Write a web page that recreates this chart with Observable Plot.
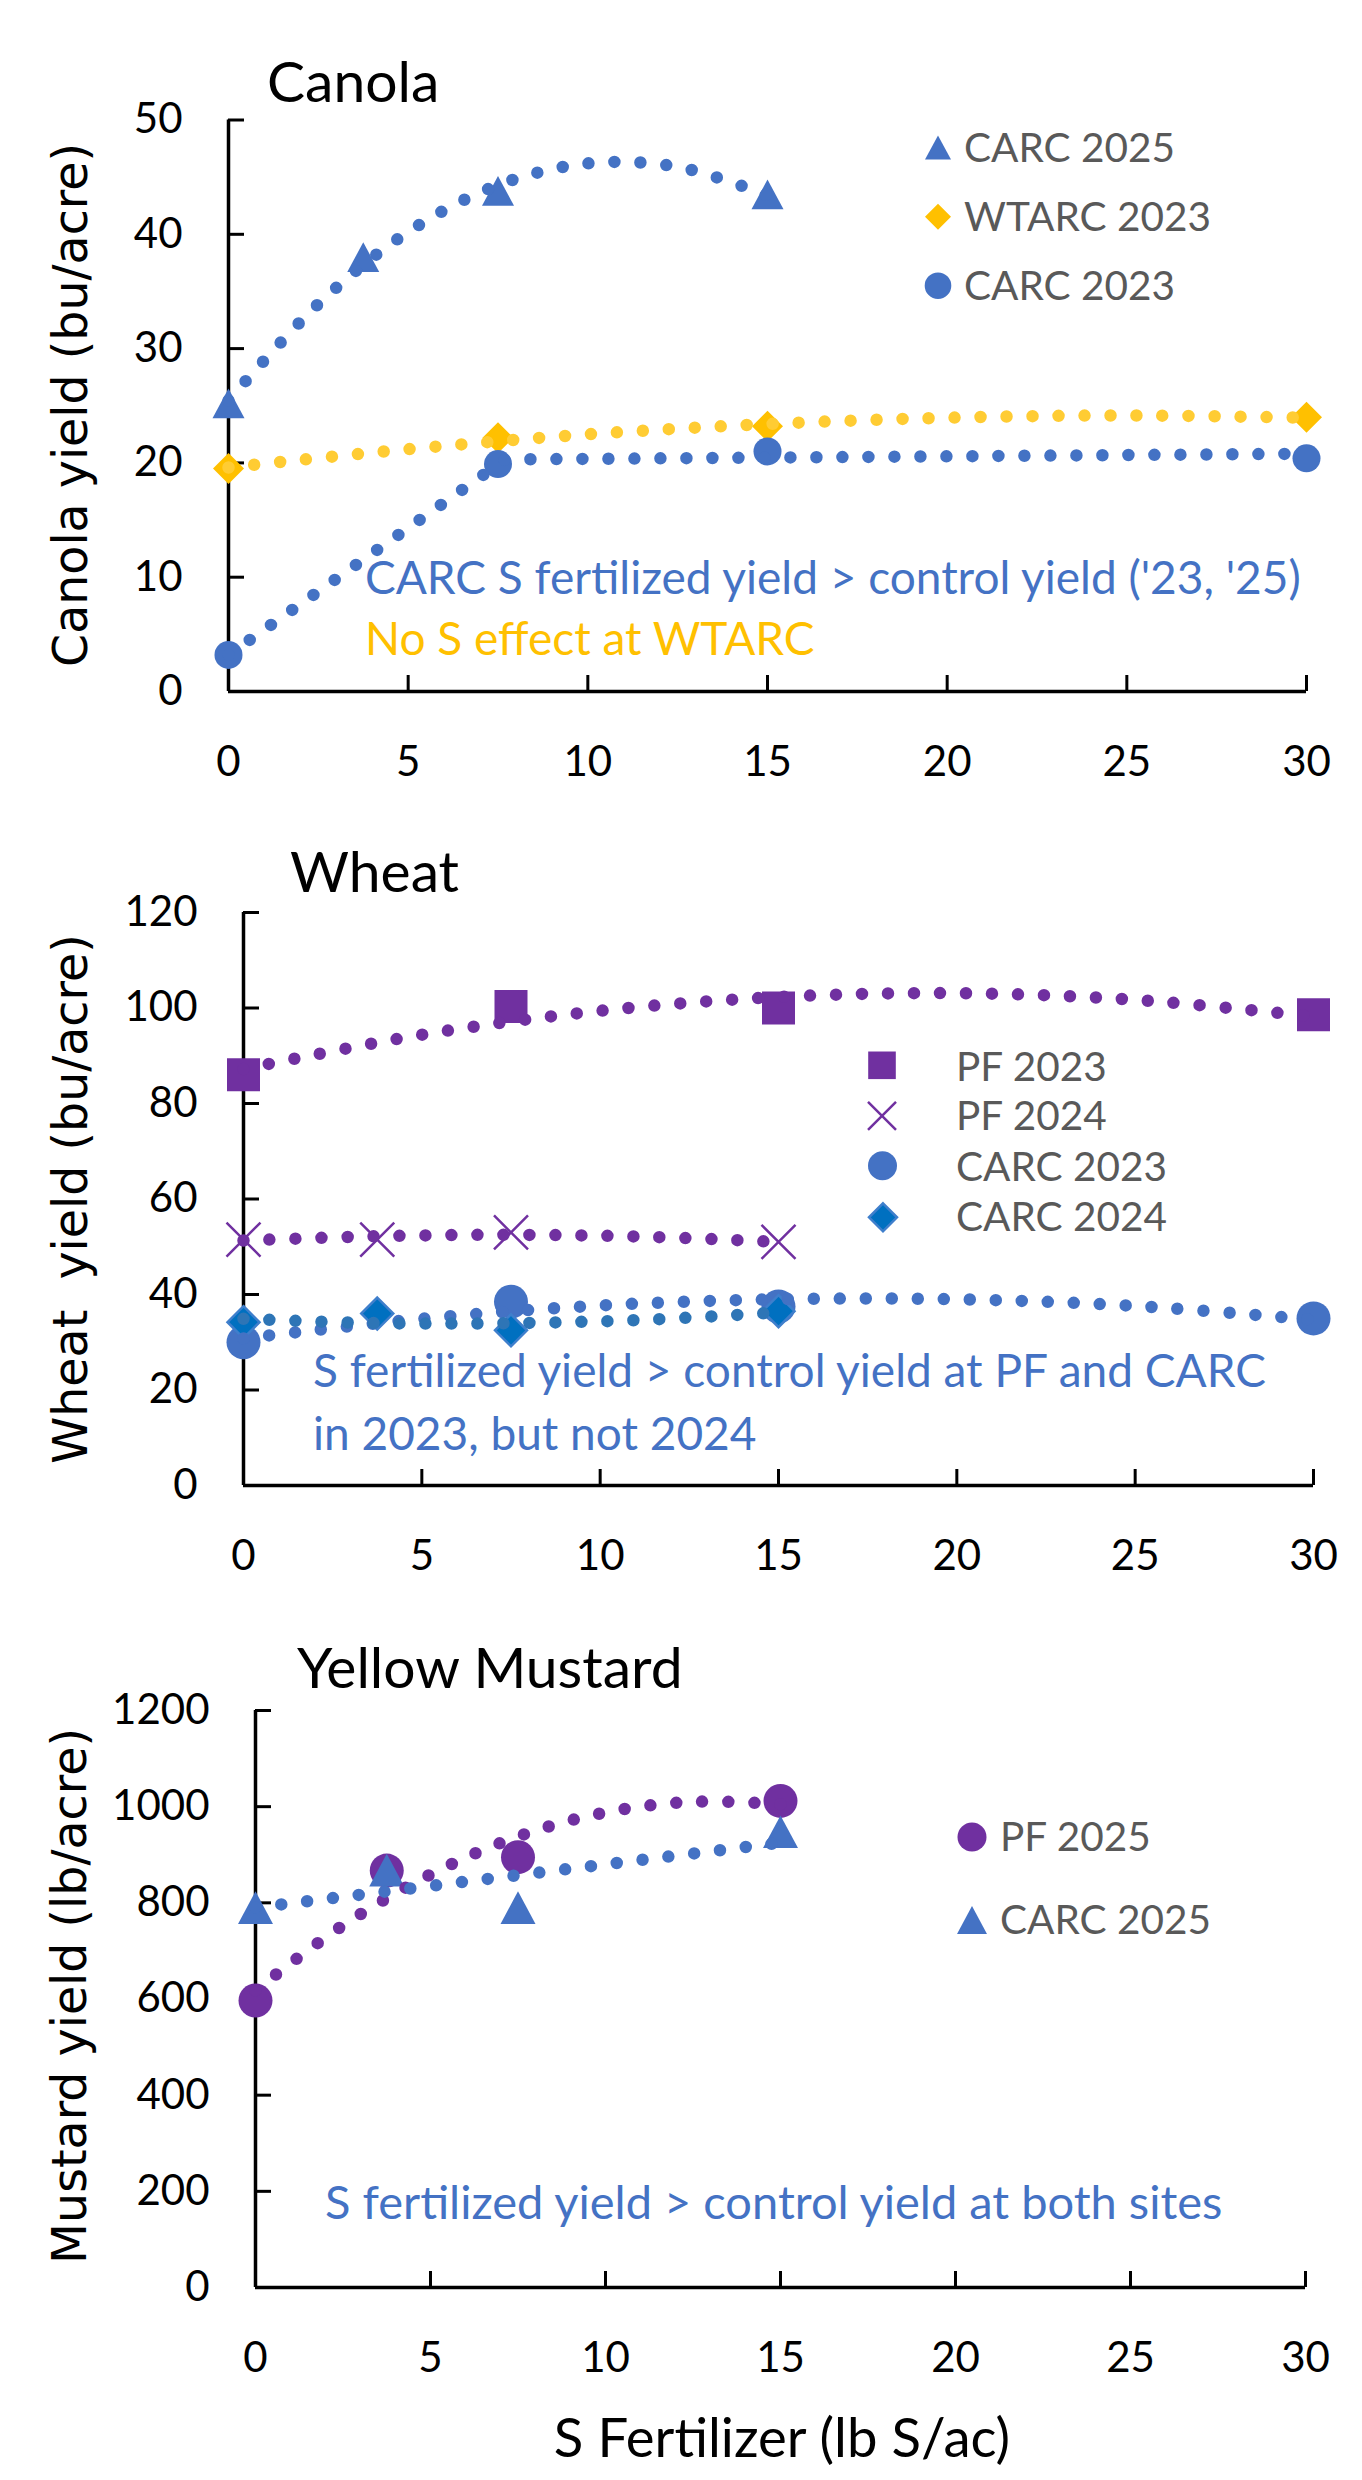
<!DOCTYPE html>
<html>
<head>
<meta charset="utf-8">
<script src="https://cdn.jsdelivr.net/npm/d3@7"></script>
<script src="https://cdn.jsdelivr.net/npm/@observablehq/plot@0.6"></script>
<style>
  html, body { margin: 0; padding: 0; background: #fff; }
  #root { position: relative; width: 1362px; height: 2480px; overflow: hidden; background: #fff; }
  .panel { position: absolute; left: 0; }
  #overlay { position: absolute; left: 0; top: 0; }
</style>
</head>
<body>
<div id="root"></div>
<script>
// ---------------- DATA ----------------
const xTicks = [0, 5, 10, 15, 20, 25, 30];

// Canola (bu/acre)
const canolaTicks = [0, 10, 20, 30, 40, 50];
const canolaCarc25X = [0, 3.75, 7.5, 15];
const canolaCarc25Y = [25.2, 38.0, 43.8, 43.5];
const canolaWtarc23X = [0, 7.5, 15, 30];
const canolaWtarc23Y = [19.5, 22.2, 23.2, 24.0];
const canolaCarc23X = [0, 7.5, 15, 30];
const canolaCarc23Y = [3.2, 19.9, 21.0, 20.4];
// dotted trend curves
const canolaCarc25TrendX = [0, 2.5, 5, 7.5, 10, 12.5, 15];
const canolaCarc25TrendY = [25.45, 33.9, 40.2, 44.3, 46.2, 45.9, 43.4];
const canolaWtarc23TrendX = [0, 5, 10, 15, 20, 25, 30];
const canolaWtarc23TrendY = [19.6, 21.2, 22.5, 23.4, 23.95, 24.15, 23.95];
const canolaCarc23TrendX = [0, 7.7, 30];
const canolaCarc23TrendY = [3.2, 20.3, 20.8];

// Wheat (bu/acre)
const wheatTicks = [0, 20, 40, 60, 80, 100, 120];
const wheatPf23X = [0, 7.5, 15, 30];
const wheatPf23Y = [86.0, 100.3, 100.0, 98.6];
const wheatPf24X = [0, 3.75, 7.5, 15];
const wheatPf24Y = [51.5, 51.5, 53.0, 51.0];
const wheatCarc23X = [0, 7.5, 15, 30];
const wheatCarc23Y = [30.0, 38.5, 37.5, 35.0];
const wheatCarc24X = [0, 3.75, 7.5, 15];
const wheatCarc24Y = [34.2, 36.0, 32.5, 36.5];
const wheatPf23TrendX = [0, 5, 10, 15, 20, 25, 30];
const wheatPf23TrendY = [87.2, 94.4, 99.4, 102.3, 103.1, 101.7, 98.2];
const wheatPf24TrendX = [0, 3.75, 7.5, 11.25, 15];
const wheatPf24TrendY = [51.3, 52.2, 52.5, 52.1, 51.0];
const wheatCarc23TrendX = [0, 5, 10, 15, 20, 25, 30];
const wheatCarc23TrendY = [30.8, 34.9, 37.7, 39.0, 39.0, 37.6, 34.7];
const wheatCarc24TrendX = [0, 3.75, 7.5, 11.25, 15];
const wheatCarc24TrendY = [34.9, 34.0, 34.0, 34.7, 36.25];

// Yellow mustard (lb/acre)
const mustardTicks = [0, 200, 400, 600, 800, 1000, 1200];
const mustardPf25X = [0, 3.75, 7.5, 15];
const mustardPf25Y = [597, 867, 895, 1012];
const mustardCarc25X = [0, 3.75, 7.5, 15];
const mustardCarc25Y = [790, 868, 790, 948];
const mustardPf25TrendX = [0, 2.5, 5, 7.5, 10, 12.5, 15];
const mustardPf25TrendY = [618, 753, 859, 938, 988, 1010, 1005];
const mustardCarc25TrendX = [0, 15];
const mustardCarc25TrendY = [790, 925];

// ---------------- STYLE ----------------
const FONT = "Lato, Carlito, Calibri, sans-serif";
const BLUE = "#4472C4", GOLD = "#FFC000", GOLD_T = "#FFCC33", PURPLE = "#7030A0",
      DBLUE = "#0070C0", DBLUE_T = "#2E75B6", GREY = "#595959";

const SYM = {
  triangle: { draw(ctx, size) { const r = Math.sqrt(size / Math.PI), h = r * 0.93;
    ctx.moveTo(0, -h); ctx.lineTo(r, h); ctx.lineTo(-r, h); ctx.closePath(); } },
  diamond: { draw(ctx, size) { const r = Math.sqrt(size / Math.PI);
    ctx.moveTo(0, -r); ctx.lineTo(r, 0); ctx.lineTo(0, r); ctx.lineTo(-r, 0); ctx.closePath(); } },
  square: { draw(ctx, size) { const r = Math.sqrt(size / Math.PI);
    ctx.rect(-r, -r, 2 * r, 2 * r); } },
  cross: { draw(ctx, size) { const r = Math.sqrt(size / Math.PI);
    ctx.moveTo(-r, -r); ctx.lineTo(r, r); ctx.moveTo(r, -r); ctx.lineTo(-r, r); } },
  circle: { draw(ctx, size) { const r = Math.sqrt(size / Math.PI);
    ctx.moveTo(r, 0); ctx.arc(0, 0, r, 0, 2 * Math.PI); } }
};

const rows = (xs, ys) => xs.map((x, i) => ({x, y: ys[i]}));

function panel({top, height, mt, mb, ml, mr, yDomain, yTicks, series, trends}) {
  const chart = Plot.plot({
    width: 1362, height,
    marginTop: mt, marginBottom: mb, marginLeft: ml, marginRight: mr,
    x: {domain: [0, 30]},
    y: {domain: yDomain},
    style: {fontFamily: FONT, color: "#000", background: "transparent", overflow: "visible"},
    marks: [
      Plot.axisY({ticks: yTicks, tickSize: 0, tickPadding: 46, fontSize: 42, label: null, tickFormat: d => String(d)}),
      Plot.axisY({ticks: yTicks, tickSize: 16, dx: 16, tickFormat: () => "", strokeWidth: 3, label: null}),
      Plot.axisX({ticks: xTicks, tickSize: 0, tickPadding: 55, fontSize: 42, label: null, tickFormat: d => String(d)}),
      Plot.axisX({ticks: xTicks, tickSize: 16, dy: -16, tickFormat: () => "", strokeWidth: 3, label: null}),
      Plot.ruleX([0], {strokeWidth: 3.5, stroke: "#000"}),
      Plot.ruleY([0], {strokeWidth: 3.5, stroke: "#000"}),
      ...series.map(s => Plot.dot(rows(s.x, s.y), {
        x: "x", y: "y", symbol: s.symbol, r: s.r,
        fill: s.fill ?? "none", stroke: s.stroke ?? "none", strokeWidth: s.sw ?? 0
      })),
      ...trends.map(t => Plot.line(rows(t.x, t.y), {
        x: "x", y: "y", stroke: t.color, strokeWidth: 12.5,
        strokeDasharray: "0 26", strokeLinecap: "round", curve: t.curve ?? "catmull-rom"
      }))
    ]
  });
  chart.classList.add("panel");
  chart.style.top = top + "px";
  return chart;
}

const root = document.getElementById("root");

root.appendChild(panel({
  top: 0, height: 800, mt: 119.5, mb: 109, ml: 228, mr: 56,
  yDomain: [0, 50], yTicks: canolaTicks,
  series: [
    {x: canolaCarc25X, y: canolaCarc25Y, symbol: SYM.triangle, r: 16, fill: BLUE},
    {x: canolaWtarc23X, y: canolaWtarc23Y, symbol: SYM.diamond, r: 15.5, fill: GOLD},
    {x: canolaCarc23X, y: canolaCarc23Y, symbol: SYM.circle, r: 14, fill: BLUE}
  ],
  trends: [
    {x: canolaCarc25TrendX, y: canolaCarc25TrendY, color: BLUE},
    {x: canolaWtarc23TrendX, y: canolaWtarc23TrendY, color: GOLD_T},
    {x: canolaCarc23TrendX, y: canolaCarc23TrendY, color: BLUE, curve: "linear"}
  ]
}));

root.appendChild(panel({
  top: 800, height: 800, mt: 112, mb: 115, ml: 243, mr: 49,
  yDomain: [0, 120], yTicks: wheatTicks,
  series: [
    {x: wheatPf23X, y: wheatPf23Y, symbol: SYM.square, r: 16.5, fill: PURPLE},
    {x: wheatPf24X, y: wheatPf24Y, symbol: SYM.cross, r: 17, stroke: PURPLE, sw: 2.5},
    {x: wheatCarc23X, y: wheatCarc23Y, symbol: SYM.circle, r: 17, fill: BLUE},
    {x: wheatCarc24X, y: wheatCarc24Y, symbol: SYM.diamond, r: 16, fill: DBLUE, stroke: "#3F7FCC", sw: 2.5}
  ],
  trends: [
    {x: wheatPf23TrendX, y: wheatPf23TrendY, color: PURPLE},
    {x: wheatPf24TrendX, y: wheatPf24TrendY, color: PURPLE},
    {x: wheatCarc23TrendX, y: wheatCarc23TrendY, color: BLUE},
    {x: wheatCarc24TrendX, y: wheatCarc24TrendY, color: DBLUE_T}
  ]
}));

root.appendChild(panel({
  top: 1600, height: 880, mt: 110, mb: 193, ml: 255, mr: 57,
  yDomain: [0, 1200], yTicks: mustardTicks,
  series: [
    {x: mustardPf25X, y: mustardPf25Y, symbol: SYM.circle, r: 17, fill: PURPLE},
    {x: mustardCarc25X, y: mustardCarc25Y, symbol: SYM.triangle, r: 17.5, fill: BLUE}
  ],
  trends: [
    {x: mustardPf25TrendX, y: mustardPf25TrendY, color: PURPLE},
    {x: mustardCarc25TrendX, y: mustardCarc25TrendY, color: BLUE, curve: "linear"}
  ]
}));

// ---------------- TITLES, AXIS LABELS, LEGENDS, NOTES ----------------
function symPath(sym, r) { const p = d3.path(); sym.draw(p, Math.PI * r * r); return p.toString(); }
const esc = s => s.replace(/&/g, "&amp;").replace(/</g, "&lt;").replace(/>/g, "&gt;");
function txt(x, y, s, {size = 42, fill = "#000", font = FONT, anchor = "start", rotate = 0} = {}) {
  const tr = rotate ? `transform="translate(${x},${y}) rotate(${rotate})"` : `x="${x}" y="${y}"`;
  return `<text ${tr} font-family="${font}" font-size="${size}" fill="${fill}" text-anchor="${anchor}" style="white-space:pre">${esc(s)}</text>`;
}
function sym(cx, cy, s, r, fill, stroke = "none", sw = 0) {
  return `<path transform="translate(${cx},${cy})" d="${symPath(s, r)}" fill="${fill}" stroke="${stroke}" stroke-width="${sw}"/>`;
}
const YFONT = "'DejaVu Sans', Verdana, sans-serif";
const TSIZE = 57, NSIZE = 46, LSIZE = 40.5;
let o = "";
// Canola
o += txt(267, 102, "Canola", {size: TSIZE});
o += txt(87, 405, "Canola yield (bu/acre)", {size: 47.5, font: YFONT, anchor: "middle", rotate: -90});
o += sym(938, 147.5, SYM.triangle, 13, BLUE) + txt(964, 161.7, "CARC 2025", {size: LSIZE, fill: GREY});
o += sym(938, 216.7, SYM.diamond, 13, GOLD) + txt(964, 230.7, "WTARC 2023", {size: LSIZE, fill: GREY});
o += sym(938, 285.7, SYM.circle, 13.3, BLUE) + txt(964, 300, "CARC 2023", {size: LSIZE, fill: GREY});
o += txt(365, 594, "CARC S fertilized yield > control yield ('23, '25)", {size: NSIZE, fill: BLUE});
o += txt(365, 655, "No S effect at WTARC", {size: NSIZE, fill: GOLD});
// Wheat
o += txt(290, 891.7, "Wheat", {size: TSIZE});
o += txt(87, 1199, "Wheat  yield (bu/acre)", {size: 47.5, font: YFONT, anchor: "middle", rotate: -90});
o += sym(882, 1065.3, SYM.square, 13.8, PURPLE) + txt(956, 1080.7, "PF 2023", {size: LSIZE, fill: GREY});
o += sym(882, 1115.8, SYM.cross, 14, "none", PURPLE, 2.5) + txt(956, 1130.4, "PF 2024", {size: LSIZE, fill: GREY});
o += sym(882.5, 1165.8, SYM.circle, 14.5, BLUE) + txt(956, 1180.7, "CARC 2023", {size: LSIZE, fill: GREY});
o += sym(883, 1217.3, SYM.diamond, 14, DBLUE, "#3F7FCC", 2.5) + txt(956, 1230.7, "CARC 2024", {size: LSIZE, fill: GREY});
o += txt(313, 1387, "S fertilized yield > control yield at PF and CARC", {size: NSIZE, fill: BLUE});
o += txt(313, 1450, "in 2023, but not 2024", {size: NSIZE, fill: BLUE});
// Mustard
o += txt(297, 1688.3, "Yellow Mustard", {size: TSIZE});
o += txt(86, 1996, "Mustard yield (lb/acre)", {size: 47.5, font: YFONT, anchor: "middle", rotate: -90});
o += sym(972, 1837, SYM.circle, 14.5, PURPLE) + txt(1000, 1851, "PF 2025", {size: LSIZE, fill: GREY});
o += sym(972, 1920, SYM.triangle, 15, BLUE) + txt(1000, 1934, "CARC 2025", {size: LSIZE, fill: GREY});
o += txt(325, 2219, "S fertilized yield > control yield at both sites", {size: 47, fill: BLUE});
o += txt(782, 2457, "S Fertilizer (lb S/ac)", {size: 54.5, anchor: "middle"});

root.insertAdjacentHTML("beforeend",
  `<svg id="overlay" width="1362" height="2480" viewBox="0 0 1362 2480" xmlns="http://www.w3.org/2000/svg">${o}</svg>`);
</script>
</body>
</html>
